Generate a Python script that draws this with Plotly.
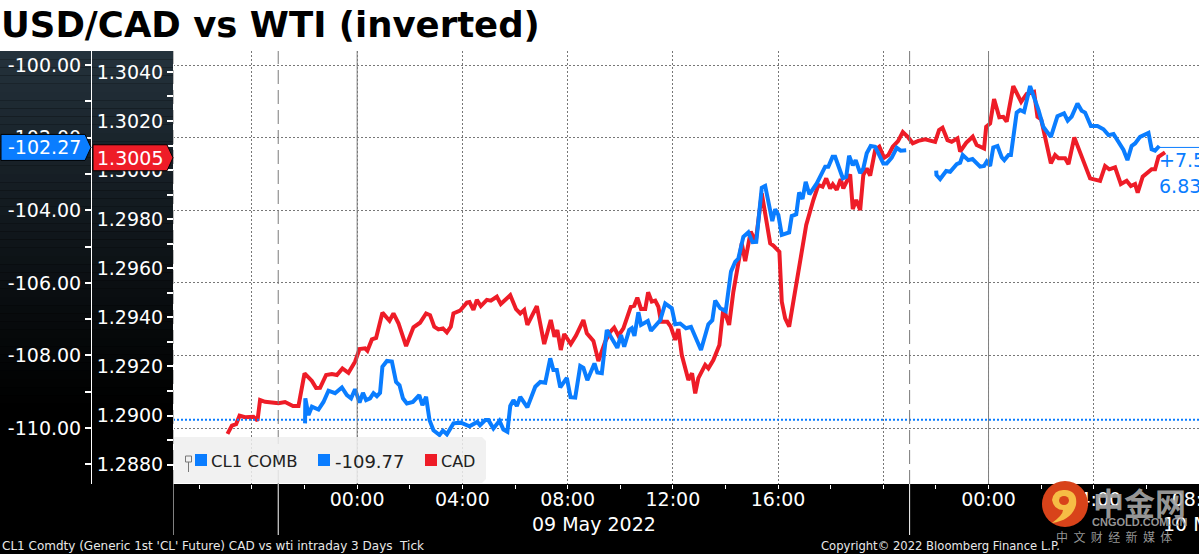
import pandas as pd
import plotly.graph_objects as go

TITLE = "USD/CAD vs WTI (inverted)"
FOOT_L = "CL1 Comdty (Generic 1st 'CL' Future) CAD vs wti intraday 3 Days  Tick"
FOOT_R = "Copyright\u00a9 2022 Bloomberg Finance L.P."

# hours relative to 09 May 2022 00:00
cad_hours = [-4.93,-4.76,-4.60,-4.47,-4.26,-3.94,-3.79,-3.69,-3.50,-3.18,-2.99,-2.74,-2.44,-2.23,-2.00,-1.72,-1.56,-1.41,-1.18,-0.96,-0.77,-0.56,-0.33,-0.08,
 0.09,0.30,0.39,0.56,0.72,0.96,1.23,1.38,1.57,1.86,2.14,2.39,2.62,2.77,2.93,3.09,3.26,3.41,3.56,3.66,3.91,4.17,4.27,4.42,4.55,4.70,4.93,5.08,5.31,5.46,5.82,
 6.04,6.20,6.35,6.47,6.83,7.11,7.36,7.50,7.61,7.74,7.87,8.12,8.32,8.46,8.60,8.73,8.98,9.17,9.43,9.62,9.77,9.93,10.12,10.40,10.53,10.65,10.79,10.95,11.06,11.20,
 11.33,11.45,11.55,11.79,11.92,12.09,12.21,12.34,12.59,12.73,12.85,12.97,13.23,13.35,13.54,13.77,13.92,14.14,14.30,14.62,14.75,14.96,15.15,15.38,15.57,15.70,
 15.82,16.05,16.14,16.27,16.42,16.65,16.90,17.07,17.34,17.53,17.69,17.83,17.98,18.08,18.23,18.38,18.48,18.74,18.84,18.97,19.12,19.24,19.37,19.50,19.69,19.85,
 20.03,20.19,20.36,20.56,20.74,20.94,21.12,21.33,21.59,21.78,21.97,22.12,22.25,22.44,22.60,22.82,22.92,23.15,23.40,23.55,23.83,23.91,24.06,24.21,24.41,24.56,
 24.69,24.94,25.24,25.45,25.73,25.86,26.00,26.37,26.53,26.66,26.91,27.04,27.26,27.86,28.24,28.43,28.59,28.81,29.03,29.25,29.41,29.57,29.67,29.86,30.20,30.33,30.46,30.71]
cad_values = [1.28925,1.28959,1.28965,1.28999,1.28993,1.28995,1.28979,1.29063,1.29056,1.29051,1.2905,1.29055,1.29039,1.29039,1.29172,1.29141,1.29112,1.29113,1.29165,1.29169,1.29165,1.29192,1.29174,1.29219,
 1.29271,1.29274,1.29264,1.2931,1.29316,1.29419,1.29386,1.29416,1.29376,1.29283,1.29359,1.29378,1.29416,1.29409,1.29362,1.29351,1.29355,1.29339,1.29362,1.29416,1.29427,1.2946,1.29462,1.2943,1.29471,1.29446,1.29471,1.29468,1.29484,1.29454,1.2949,
 1.29433,1.29416,1.2943,1.29369,1.29446,1.29291,1.29389,1.29321,1.29348,1.29267,1.29332,1.29291,1.29326,1.29355,1.29389,1.29335,1.29304,1.29222,1.29301,1.29341,1.29358,1.29325,1.29355,1.29443,1.29447,1.2948,1.29434,1.29434,1.29502,1.29464,
 1.29468,1.29443,1.29382,1.29382,1.29362,1.29308,1.29352,1.29246,1.29145,1.29172,1.2909,1.29152,1.29206,1.29192,1.29226,1.29287,1.29437,1.29369,1.29504,1.29701,1.29629,1.29749,1.29708,1.29905,1.29776,1.29701,
 1.29692,1.29667,1.29464,1.29396,1.29362,1.29504,1.29681,1.29776,1.29878,1.29939,1.29932,1.29966,1.29925,1.29942,1.29919,1.29963,1.29925,1.29982,1.29841,1.29878,1.29837,1.2998,1.30007,1.29977,1.30081,1.30095,
 1.3005,1.30061,1.30095,1.30118,1.30155,1.30134,1.30109,1.30119,1.30125,1.30119,1.30115,1.30163,1.30172,1.30122,1.30115,1.30129,1.30075,1.30111,1.30136,1.30102,1.30088,1.30176,1.3019,1.30289,1.30215,1.30217,
 1.30197,1.30342,1.30278,1.3031,1.30319,1.30217,1.30207,1.30027,1.30061,1.30048,1.30048,1.30024,1.30133,1.29966,1.29956,1.30016,1.30003,1.30011,1.29943,1.29956,1.29935,1.29943,1.29908,1.29973,1.30003,1.30003,1.30054,1.30072]

wti_hours = [-1.98,-1.97,-1.85,-1.72,-1.47,-1.28,-1.09,-0.84,-0.58,-0.39,-0.23,-0.08,0.09,0.22,0.34,0.49,0.62,0.75,0.87,0.96,1.13,1.32,1.48,1.61,1.74,1.89,2.12,2.36,2.48,2.62,2.75,2.90,3.13,3.26,3.41,3.66,3.94,4.27,4.57,4.67,4.87,4.99,5.18,5.41,5.56,5.71,5.82,5.94,6.07,6.20,6.47,6.64,6.77,6.96,7.15,7.34,7.46,7.59,7.72,7.97,8.11,8.29,8.48,8.60,8.75,9.02,9.13,9.30,9.49,9.89,10.03,10.15,10.34,10.44,10.54,10.69,10.79,11.05,11.17,11.52,11.71,11.96,12.09,12.28,12.50,12.69,12.87,13.07,13.35,13.50,13.61,13.80,14.01,14.21,14.37,14.49,14.68,14.87,15.03,15.17,15.38,15.51,15.78,15.89,16.01,16.14,16.42,16.52,16.69,16.80,16.93,17.05,17.19,17.47,17.79,17.91,18.07,18.17,18.46,18.59,18.70,18.84,18.95,19.12,19.24,19.37,19.52,19.69,20.00,20.13,20.32,20.51,20.66,20.87,
 21.50,
 22.01,22.02,22.16,22.39,22.54,22.79,22.92,23.02,23.23,23.39,23.68,23.83,23.93,24.06,24.18,24.34,24.50,24.60,24.76,24.85,25.07,25.20,25.35,25.58,25.90,26.08,26.37,26.62,26.87,27.01,27.16,27.38,27.54,27.67,27.89,28.14,28.37,28.56,28.75,28.97,29.13,29.28,29.44,29.57,29.76,30.08,30.20,30.33,30.49]
wti_values = [-109.87,-109.18,-109.64,-109.41,-109.49,-109.28,-108.97,-109.04,-108.88,-109.09,-109.18,-108.93,-109.30,-109.03,-109.23,-109.18,-109.04,-109.12,-109.03,-108.31,-108.15,-108.17,-108.73,-108.82,-109.18,-109.32,-109.28,-109.09,-109.37,-109.14,-109.78,-110.06,-110.19,-110.07,-110.17,-109.87,-109.85,-109.95,-109.83,-109.92,-109.78,-109.78,-110.01,-109.80,-110.04,-110.10,-109.39,-109.23,-109.39,-109.14,-109.43,-109.14,-108.86,-108.73,-108.75,-108.08,-108.40,-108.40,-108.88,-108.62,-109.15,-109.16,-108.29,-108.34,-108.68,-108.22,-108.47,-108.49,-107.30,-107.79,-107.44,-107.76,-107.30,-107.25,-107.46,-106.81,-107.16,-107.05,-107.32,-107.03,-106.57,-106.70,-107.14,-107.12,-107.25,-107.21,-107.51,-107.85,-107.14,-107.03,-106.49,-106.70,-106.78,-105.69,-105.42,-105.33,-104.73,-104.61,-104.88,-104.87,-103.38,-103.33,-104.30,-103.97,-104.13,-104.68,-104.61,-104.16,-104.11,-103.51,-103.69,-103.22,-103.56,-103.26,-102.80,-102.80,-102.53,-102.53,-103.12,-103.08,-102.50,-102.76,-102.62,-102.98,-102.85,-102.43,-102.23,-102.25,-102.71,-102.71,-102.55,-102.28,-102.36,-102.35,
 None,
 -102.91,-103.03,-103.14,-102.92,-102.94,-102.73,-102.69,-102.48,-102.62,-102.59,-102.80,-102.78,-102.66,-102.78,-102.27,-102.23,-102.54,-102.62,-102.48,-102.48,-101.31,-101.24,-101.29,-100.58,-101.24,-101.70,-101.98,-101.41,-101.33,-101.53,-101.42,-101.06,-101.26,-101.31,-101.68,-101.68,-101.77,-101.93,-101.90,-102.14,-102.34,-102.62,-102.23,-102.16,-101.98,-101.87,-102.32,-102.36,-102.23]

cad_ticks = [1.288, 1.290, 1.292, 1.294, 1.296, 1.298, 1.300, 1.302, 1.304]
cad_labels = ["1.2880", "1.2900", "1.2920", "1.2940", "1.2960", "1.2980", "1.3000", "1.3020", "1.3040"]
wti_ticks = [-110, -108, -106, -104, -102, -100]
wti_labels = ["-110.00", "-108.00", "-106.00", "-104.00", "-102.00", "-100.00"]
LAST_CAD = 1.3005
LAST_WTI = -102.27
AVG_WTI = -109.77
LAST_CAD_LABEL = "1.3005"
LAST_WTI_LABEL = "-102.27"
AVG_WTI_LABEL = "-109.77"
SIDE_LABELS = ["+7.5", "6.83"]
LEGEND_NAMES = ["CL1 COMB", AVG_WTI_LABEL, "CAD"]
DATE_LABELS = ["09 May 2022", "10 May 2022"]
SESSIONS = [-7, -3, 21]
MIDNIGHTS = [0, 24]

W, H = 1199, 554
TOP, BOT, LEFT, MID = 51, 484, 173, 91
BLUE, RED = "#0a7dff", "#ee1c27"
FONT = "DejaVu Sans"

def px(x):
    return x / W

def py(y):
    return 1 - (y - TOP) / (BOT - TOP)

def when(hours):
    return pd.Timestamp("2022-05-09") + pd.Timedelta(hours=hours)

def pts(points):
    return " ".join(f"{c}{px(x):.5f},{py(y):.5f}" for c, x, y in points)

def p2(x, y):
    return f"{px(x):.5f},{py(y):.5f}"

fig = go.Figure()
fig.add_trace(go.Scatter(x=[when(h) for h in wti_hours], y=wti_values, yaxis="y2", mode="lines",
                         line=dict(color=BLUE, width=4), name="CL1 COMB", connectgaps=False))
fig.add_trace(go.Scatter(x=[when(wti_hours[-1]), when(32)], y=[LAST_WTI, LAST_WTI], yaxis="y2", mode="lines",
                         line=dict(color=BLUE, width=1), showlegend=False))
fig.add_trace(go.Scatter(x=[when(-7), when(32)], y=[AVG_WTI, AVG_WTI], yaxis="y2", mode="lines",
                         line=dict(color=BLUE, width=2, dash="2px,2px"), showlegend=False))
fig.add_trace(go.Scatter(x=[when(h) for h in cad_hours], y=cad_values, mode="lines",
                         line=dict(color=RED, width=4), name="CAD"))

shapes = []
# white title band
shapes.append(dict(type="rect", xref="paper", yref="paper", x0=0, x1=1, y0=py(TOP), y1=py(0),
                   fillcolor="white", line_width=0, layer="below"))
# gradient behind the value axes
n = 45
for i in range(n):
    t = i / (n - 1)
    k = max(0, 1 - t) ** 1.15
    col = f"rgb({int(36*k)},{int(50*k)},{int(60*k)})"
    y0 = TOP + (420 - TOP) * i / n
    y1 = TOP + (420 - TOP) * (i + 1) / n
    shapes.append(dict(type="rect", xref="paper", yref="paper", x0=0, x1=px(LEFT), y0=py(y0), y1=py(y1),
                       fillcolor=col, line_width=0, layer="below"))
# session and midnight lines
for h in SESSIONS:
    shapes.append(dict(type="line", xref="x", yref="paper", x0=when(h), x1=when(h), y0=0, y1=1,
                       line=dict(color="#7a7a7a", width=1, dash="14px,6px"), layer="above"))
    shapes.append(dict(type="line", xref="x", yref="paper", x0=when(h), x1=when(h), y0=py(535), y1=py(BOT),
                       line=dict(color="white", width=1), layer="above"))
for h in MIDNIGHTS:
    shapes.append(dict(type="line", xref="x", yref="paper", x0=when(h), x1=when(h), y0=0, y1=1,
                       line=dict(color="#808080", width=1), layer="above"))
# legend box
shapes.append(dict(type="path", xref="paper", yref="paper", layer="above", line_width=0,
                   fillcolor="rgba(238,238,238,0.85)",
                   path=pts([("M", 174, 437), ("L", 482, 437), ("L", 486, 441), ("L", 486, 479),
                             ("L", 482, 483), ("L", 174, 483)]) + " Z"))
for x0, c in [(195, BLUE), (318, BLUE), (425, RED)]:
    shapes.append(dict(type="rect", xref="paper", yref="paper", x0=px(x0), x1=px(x0 + 12), y0=py(466), y1=py(454),
                       fillcolor=c, line_width=0, layer="above"))
shapes.append(dict(type="rect", xref="paper", yref="paper", x0=px(185.5), x1=px(191.5), y0=py(462), y1=py(456),
                   fillcolor="rgba(0,0,0,0)", line=dict(color="#777777", width=1), layer="above"))
shapes.append(dict(type="line", xref="paper", yref="paper", x0=px(188.5), x1=px(188.5), y0=py(472), y1=py(462),
                   line=dict(color="#777777", width=1), layer="above"))
# last-value tags
shapes.append(dict(type="path", xref="paper", yref="y2", xsizemode="pixel", ysizemode="pixel",
                   xanchor=0, yanchor=LAST_WTI, path="M1,13 L85,13 L91,0 L85,-13 L1,-13 Z",
                   fillcolor=BLUE, line=dict(color="black", width=1), layer="above"))
shapes.append(dict(type="path", xref="paper", yref="y", xsizemode="pixel", ysizemode="pixel",
                   xanchor=px(92), yanchor=LAST_CAD, path="M1,13 L75,13 L81,0 L75,-13 L1,-13 Z",
                   fillcolor=RED, line=dict(color="black", width=1), layer="above"))
# watermark logo
shapes.append(dict(type="circle", xref="paper", yref="paper", x0=px(1042), x1=px(1088), y0=py(527), y1=py(481),
                   fillcolor="#d8431a", line_width=0, layer="above"))
shapes.append(dict(type="path", xref="paper", yref="paper", layer="above", line_width=0, fillcolor="#f6bd45",
                   path=f"M{p2(1052,500)} Q{p2(1054,489)} {p2(1065,490)} Q{p2(1078,491)} {p2(1076,505)} "
                        f"Q{p2(1072,520)} {p2(1052,523)} Q{p2(1063,515)} {p2(1063,510)} Q{p2(1054,510)} {p2(1052,500)} Z"))
shapes.append(dict(type="circle", xref="paper", yref="paper", x0=px(1059), x1=px(1069), y0=py(505), y1=py(496),
                   fillcolor="#d8431a", line_width=0, layer="above"))

def note(text, x, y, size=19, color="white", anchor="center", family=FONT, yref="paper", bold=False):
    return dict(text=f"<b>{text}</b>" if bold else text, xref="paper", yref=yref, x=px(x),
                y=(py(y) if yref == "paper" else y), xanchor=anchor, yanchor="middle", showarrow=False,
                font=dict(family=family, size=size, color=color), borderpad=0, borderwidth=0)

gray = "rgba(165,165,165,0.92)"
ann = [
    note(TITLE, 1, 24, size=35.5, color="black", anchor="left", bold=True),
    note(LAST_WTI_LABEL, 44, LAST_WTI, yref="y2"),
    note(LAST_CAD_LABEL, 130, LAST_CAD, yref="y"),
    note(SIDE_LABELS[0], 1159, 160, color=BLUE, anchor="left"),
    note(SIDE_LABELS[1], 1159, 186, color=BLUE, anchor="left"),
    note(LEGEND_NAMES[0], 211, 461, size=16.5, color="#222222", anchor="left"),
    note(LEGEND_NAMES[1], 335, 461, size=18, color="#222222", anchor="left"),
    note(LEGEND_NAMES[2], 441, 461, size=16, color="#222222", anchor="left"),
    note(DATE_LABELS[0], 594, 524),
    note(DATE_LABELS[1], 1163, 524, anchor="left"),
    note(FOOT_L, 2, 546, size=12, color="#e8e8e8", anchor="left"),
    note(FOOT_R, 821, 546, size=11.6, color="#e8e8e8", anchor="left"),
    note("中金网", 1139, 501, size=31, color=gray, family="Noto Sans CJK SC", bold=True),
    note("CNGOLD.COM.CN", 1139, 522, size=11, color=gray, family="Liberation Sans", bold=True),
    note("中\u00a0\u00a0文\u00a0\u00a0财\u00a0\u00a0经\u00a0\u00a0新\u00a0\u00a0媒\u00a0\u00a0体", 1114, 536, size=12, color=gray, family="Noto Sans CJK SC"),
]

grid = dict(gridcolor="#777777", griddash="2px,2px", gridwidth=1)
fig.update_layout(
    width=W, height=H, autosize=False, showlegend=False,
    margin=dict(l=0, r=0, t=TOP, b=H - BOT, pad=0),
    paper_bgcolor="black", plot_bgcolor="white",
    font=dict(family=FONT, size=19, color="white"),
    shapes=shapes, annotations=ann,
    xaxis=dict(type="date", domain=[px(LEFT), 1], range=[when(-7), when(32)], automargin=False,
               tick0="2022-05-09 00:00", dtick=4 * 3600000, tickformat="%H:%M", labelalias={"20:00": " "},
               ticks="outside", ticklen=4, tickcolor="white", showline=False, zeroline=False,
               tickfont=dict(family=FONT, size=19, color="white"), ticklabeloverflow="allow",
               ticklabelstandoff=-6,
               showgrid=True, minor=dict(dtick=2 * 3600000, tick0="2022-05-09 00:00", ticks="outside",
                                         ticklen=4, tickcolor="white", showgrid=False), **grid),
    yaxis=dict(anchor="free", position=px(LEFT), side="left", range=[1.28721, 1.30485], automargin=False,
               tickmode="array", tickvals=cad_ticks, ticktext=cad_labels,
               ticks="outside", ticklen=6, tickwidth=2, tickcolor="white",
               showgrid=False, zeroline=False, showline=True, linecolor="white", linewidth=1,
               tickfont=dict(family=FONT, size=19, color="white"),
               minor=dict(tickmode="linear", tick0=1.289, dtick=0.002, ticks="outside", ticklen=6, tickcolor="white")),
    yaxis2=dict(anchor="free", overlaying="y", position=px(MID), side="left", range=[-111.54, -99.614], automargin=False,
                tickmode="array", tickvals=wti_ticks, ticktext=wti_labels,
                ticks="outside", ticklen=6, tickwidth=2, tickcolor="white",
                showgrid=True, zeroline=False, showline=True, linecolor="white", linewidth=1,
                tickfont=dict(family=FONT, size=19, color="white"),
                minor=dict(tickmode="linear", tick0=-101, dtick=2, ticks="outside", ticklen=6, tickcolor="white"),
                **grid),
)
fig.write_html("out.html", config={"displayModeBar": False},
               post_script="document.body.style.margin='0';document.documentElement.style.overflow='hidden';")
